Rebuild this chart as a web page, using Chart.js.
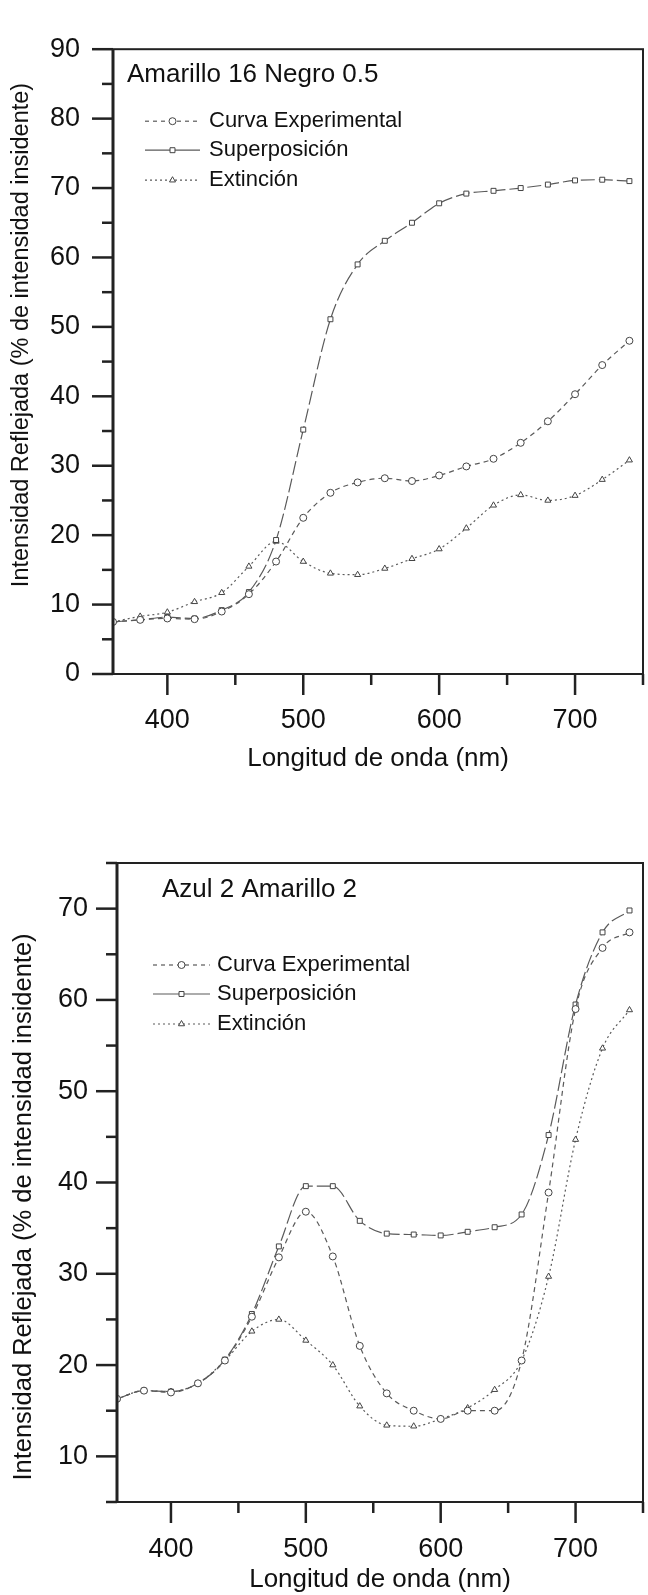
<!DOCTYPE html>
<html>
<head>
<meta charset="utf-8">
<title>Intensidad reflejada</title>
<script src="https://cdn.jsdelivr.net/npm/chart.js@4.4.1/dist/chart.umd.min.js"></script>
<style>
    html, body { margin: 0; padding: 0; background: #fff; }
    #wrap { position: relative; width: 648px; height: 1595px; overflow: hidden; }
    .box { position: absolute; left: 0; width: 648px; }
    #box1 { top: 0; height: 800px; }
    #box2 { top: 800px; height: 795px; }
    canvas { display: block; }
</style>
</head>
<body>
<div id="wrap">
    <div class="box" id="box1"><canvas id="chart1" width="648" height="800"></canvas></div>
    <div class="box" id="box2"><canvas id="chart2" width="648" height="795"></canvas></div>
</div>

<script>
// ----- DATA -----
const wavelengths = [360, 380, 400, 420, 440, 460, 480, 500, 520, 540, 560, 580, 600, 620, 640, 660, 680, 700, 720, 740];
const xTickLabels = [400, 500, 600, 700];
const yTicksTop = [0, 10, 20, 30, 40, 50, 60, 70, 80, 90];
const yTicksBottom = [10, 20, 30, 40, 50, 60, 70];

const seriesNames = ["Curva Experimental", "Superposición", "Extinción"];
const titleTop = "Amarillo 16 Negro 0.5";
const titleBottom = "Azul 2 Amarillo 2";
const xTitle = "Longitud de onda (nm)";
const yTitle = "Intensidad Reflejada (% de intensidad insidente)";

// Amarillo 16 Negro 0.5
const expTop = [7.5, 7.8, 8.0, 7.9, 9.0, 11.5, 16.2, 22.5, 26.1, 27.6, 28.2, 27.8, 28.6, 29.9, 31.0, 33.3, 36.4, 40.3, 44.5, 48.0];
const supTop = [7.5, 7.8, 8.2, 8.0, 9.2, 11.8, 19.3, 35.2, 51.1, 59.0, 62.4, 65.0, 67.8, 69.2, 69.6, 70.0, 70.5, 71.1, 71.2, 71.0];
const extTop = [7.5, 8.3, 8.9, 10.4, 11.7, 15.5, 19.1, 16.2, 14.5, 14.3, 15.2, 16.6, 18.0, 21.0, 24.3, 25.8, 25.0, 25.7, 28.0, 30.8];

// Azul 2 Amarillo 2
const expBottom = [16.3, 17.2, 17.0, 18.0, 20.5, 25.3, 31.8, 36.8, 31.9, 22.1, 16.9, 15.0, 14.1, 15.0, 15.0, 20.5, 38.9, 59.0, 65.7, 67.4];
const supBottom = [16.3, 17.2, 17.1, 18.0, 20.6, 25.6, 33.0, 39.6, 39.6, 35.8, 34.4, 34.3, 34.2, 34.6, 35.1, 36.5, 45.2, 59.5, 67.4, 69.8];
const extBottom = [16.3, 17.2, 17.1, 18.0, 20.5, 23.7, 25.0, 22.7, 20.0, 15.5, 13.4, 13.3, 14.1, 15.3, 17.3, 20.5, 29.7, 44.7, 54.7, 58.9];


// ----- STYLE -----
const FONT = "'Liberation Sans', Arial, sans-serif";
const INK = "#111";
const LINE = "#5a5a5a";

const seriesStyle = [
    { dash: [5, 4], legendDash: [4, 4], point: "circle" },
    { dash: [14, 4], legendDash: [], point: "rect" },
    { dash: [2, 3], legendDash: [2, 3], point: "triangle" }
];


// ----- PLUGIN: frame + tick marks -----
const framePlugin = {
    id: "frame",
    afterDraw(chart, args, opts) {
        const { ctx, chartArea: a, scales: { x, y } } = chart;
        ctx.save();
        ctx.strokeStyle = "#222";
        ctx.lineWidth = 2;
        ctx.strokeRect(a.left, a.top, a.right - a.left, a.bottom - a.top);
        ctx.lineWidth = 3;
        ctx.beginPath();
        ctx.moveTo(a.left, a.top);
        ctx.lineTo(a.left, a.bottom);
        ctx.stroke();

        ctx.lineWidth = 2.5;
        // x ticks, every 50 nm, major at every 100
        for (let v = Math.ceil(x.min / 50) * 50; v <= x.max; v += 50) {
            const px = x.getPixelForValue(v);
            const len = v % 100 === 0 ? 21 : 11;
            ctx.beginPath();
            ctx.moveTo(px, a.bottom);
            ctx.lineTo(px, a.bottom + len);
            ctx.stroke();
        }
        // y ticks, every 5, major at every 10
        for (let v = Math.ceil(y.min / 5) * 5; v <= y.max; v += 5) {
            const py = y.getPixelForValue(v);
            const len = v % 10 === 0 ? 21 : 11;
            ctx.beginPath();
            ctx.moveTo(a.left, py);
            ctx.lineTo(a.left - len, py);
            ctx.stroke();
        }
        ctx.restore();
    }
};


// ----- PLUGIN: title, legend, y title -----
const notesPlugin = {
    id: "notes",
    afterDraw(chart, args, opts) {
        const { ctx, chartArea: a } = chart;
        ctx.save();
        ctx.fillStyle = INK;

        // title inside the plot
        ctx.font = "26px " + FONT;
        ctx.textAlign = "left";
        ctx.textBaseline = "alphabetic";
        ctx.fillText(opts.title, a.left + opts.titleDx, a.top + opts.titleDy);

        // legend
        ctx.font = "22px " + FONT;
        ctx.textBaseline = "middle";
        chart.data.datasets.forEach((ds, i) => {
            const yy = a.top + opts.legendRows[i];
            const x0 = a.left + opts.legendX0;
            const x1 = a.left + opts.legendX1;
            ctx.save();
            ctx.strokeStyle = LINE;
            ctx.lineWidth = 1.2;
            ctx.setLineDash(seriesStyle[i].legendDash);
            ctx.beginPath();
            ctx.moveTo(x0, yy);
            ctx.lineTo(x1, yy);
            ctx.stroke();
            ctx.setLineDash([]);
            ctx.fillStyle = "#fff";
            ctx.strokeStyle = ds.pointBorderColor;
            ctx.lineWidth = 1;
            Chart.helpers.drawPoint(ctx, { pointStyle: ds.pointStyle, radius: 3.5, borderWidth: 1, rotation: 0 }, (x0 + x1) / 2, yy);
            ctx.restore();
            ctx.fillText(ds.label, a.left + opts.legendText, yy);
        });

        // y axis title
        ctx.font = opts.yTitleSize + "px " + FONT;
        ctx.textAlign = "center";
        ctx.textBaseline = "middle";
        ctx.translate(opts.yTitleX, opts.yTitleY);
        ctx.rotate(-Math.PI / 2);
        ctx.fillText(yTitle, 0, 0);
        ctx.restore();
    }
};


function buildDatasets(exp, sup, ext) {
    return [exp, sup, ext].map((vals, i) => ({
        label: seriesNames[i],
        data: wavelengths.map((w, j) => ({ x: w, y: vals[j] })),
        borderColor: LINE,
        borderWidth: 1.2,
        borderDash: seriesStyle[i].dash,
        cubicInterpolationMode: "monotone",
        pointStyle: seriesStyle[i].point,
        pointRadius: 3.5,
        pointBorderWidth: 1,
        pointBorderColor: "#444",
        pointBackgroundColor: "#fff",
        fill: false
    }));
}


function makeChart(id, cfg) {
    return new Chart(document.getElementById(id), {
        type: "line",
        data: { datasets: buildDatasets(cfg.exp, cfg.sup, cfg.ext) },
        options: {
            responsive: false,
            animation: false,
            events: [],
            layout: { padding: { top: cfg.padTop, right: cfg.padRight, bottom: cfg.padBottom, left: 0 } },
            plugins: {
                legend: { display: false },
                tooltip: { enabled: false },
                notes: cfg.notes
            },
            scales: {
                x: {
                    type: "linear",
                    min: 360,
                    max: 750,
                    grid: { display: false, drawTicks: false },
                    border: { display: false },
                    afterBuildTicks: s => { s.ticks = xTickLabels.map(v => ({ value: v })); },
                    afterFit: s => { s.height = cfg.xHeight; },
                    ticks: { padding: cfg.xPad, color: INK, maxRotation: 0, autoSkip: false, font: { family: FONT, size: 27 } },
                    title: { display: true, text: xTitle, color: INK, padding: 0, font: { family: FONT, size: 26 } }
                },
                y: {
                    min: cfg.yMin,
                    max: cfg.yMax,
                    grid: { display: false, drawTicks: false },
                    border: { display: false },
                    afterBuildTicks: s => { s.ticks = cfg.yTicks.map(v => ({ value: v })); },
                    afterFit: s => { s.width = cfg.yWidth; },
                    ticks: { padding: cfg.yPad, color: INK, font: { family: FONT, size: 27 } }
                }
            }
        },
        plugins: [framePlugin, notesPlugin]
    });
}


// ----- CHART 1 : Amarillo 16 Negro 0.5 -----
makeChart("chart1", {
    exp: expTop, sup: supTop, ext: extTop,
    yMin: 0, yMax: 90, yTicks: yTicksTop,
    padTop: 29, padRight: 3, padBottom: 26,
    xHeight: 100, xPad: 30, yWidth: 113, yPad: 33,
    notes: {
        title: titleTop, titleDx: 14, titleDy: 33,
        legendRows: [72, 101, 131], legendX0: 32, legendX1: 87, legendText: 96,
        yTitleX: 22, yTitleY: 335, yTitleSize: 23.5
    }
});

// ----- CHART 2 : Azul 2 Amarillo 2 -----
makeChart("chart2", {
    exp: expBottom, sup: supBottom, ext: extBottom,
    yMin: 5, yMax: 75, yTicks: yTicksBottom,
    padTop: 63, padRight: 1, padBottom: 0,
    xHeight: 93, xPad: 31, yWidth: 117, yPad: 29,
    notes: {
        title: titleBottom, titleDx: 45, titleDy: 34,
        legendRows: [102, 131, 161], legendX0: 36, legendX1: 93, legendText: 100,
        yTitleX: 24, yTitleY: 407, yTitleSize: 25.5
    }
});
</script>
</body>
</html>
